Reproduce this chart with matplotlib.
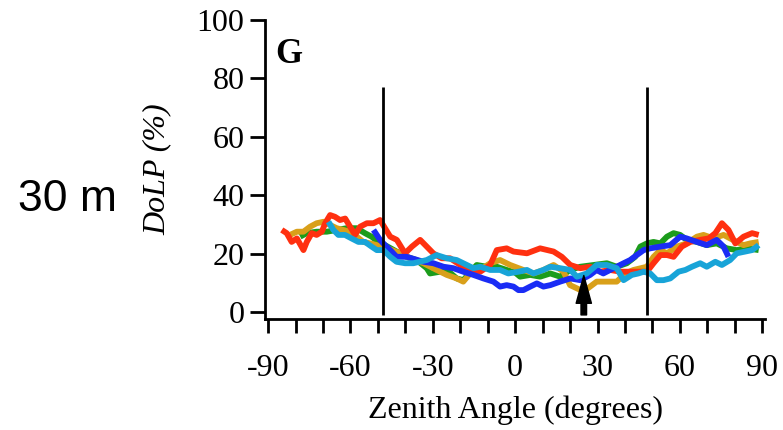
import numpy as np
import matplotlib.pyplot as plt

# ---------------------------------------------------------------------------
# Curves (zenith angle in degrees, DoLP in %)
# ---------------------------------------------------------------------------
red_x = [-85, -83.2, -81.4, -79.5, -77.1, -75.9, -74.1, -72.3, -70.4, -69.2,
         -67.4, -65.6, -63.8, -61.9, -60.1, -58.3, -56.5, -54, -51.6, -49.2,
         -47.4, -45.5, -43.1, -40.1, -37.6, -34.6, -32.2, -29.8, -26.8, -23.7,
         -20, -16.4, -12.7, -9.1, -6.7, -3.1, -0.6, 4.3, 9.1, 14, 17, 20.1,
         23.7, 27.3, 31, 34.6, 38.3, 43.1, 48, 50.4, 52.9, 55.3, 57.7, 60.7,
         63.8, 67.4, 70.5, 72.9, 75.3, 77.7, 80.2, 83.2, 86.3, 88.7]
red_y = [28.1, 27, 24, 25.2, 21.2, 24, 27, 26.4, 27.5, 30.4,
         33.2, 32.6, 31.5, 32, 29.2, 26.4, 29.2, 30.4, 30.4, 31.5,
         28.7, 25.8, 24.7, 20.1, 22.4, 24.7, 22.4, 20.1, 18.4, 18.4,
         16.1, 14.4, 13.8, 16.1, 21.2, 21.8, 20.7, 20.1, 21.8, 20.7, 18.9, 16.1,
         15, 15.5, 13.8, 14.4, 13.8, 13.8, 13.8, 16.7, 19.5, 19.5, 18.9, 22.4,
         24, 24.7, 25.2, 27, 30.4, 28.1, 23.5, 25.8, 27, 26.4]

gold_x = [-82, -79.5, -77.1, -74.7, -72.3, -69.8, -67.4, -65, -62.6, -60.1,
          -57.7, -55.3, -52.8, -50.4, -48, -41.9, -38.3, -33.4, -28.6, -24.9,
          -21.3, -18.9, -16.4, -12.8, -9.1, -5.5, -1.8, 3, 6.7, 10.3, 14, 17.6,
          20, 22.5, 24.9, 27.3, 29.7, 33.4, 37, 40.1, 43.1, 48, 50.4, 52.9,
          55.3, 58.9, 62.5, 66.2, 68.6, 72.3, 75.9, 78.3, 80.7, 83.2, 85.6, 88.7]
gold_y = [26.4, 27.5, 27.5, 29.2, 30.4, 30.9, 29.8, 28.7, 28.1, 27.5,
          25.8, 24, 23.5, 22.9, 22.4, 20.1, 18.4, 16.7, 14.4, 12.7,
          11.5, 10.4, 13.2, 14.4, 16.7, 17.8, 16.1, 14.4, 13.2, 14.4, 16.1, 13.8,
          9.2, 8.1, 7, 8.7, 10.4, 10.4, 10.4, 13.2, 14.4, 15.5, 18.9, 21.2,
          20.1, 22.4, 23.5, 25.8, 26.4, 25.2, 26.4, 25.2, 24, 22.9, 23.5, 24]

green_x = [-78.3, -75.9, -72.3, -68.6, -65, -61.4, -57.7, -54.7, -52.3, -49.8,
           -47.4, -43.2, -39.5, -35.9, -32.2, -31, -27.3, -24.9, -21.3, -18.9,
           -14, -10.4, -6.7, -3.1, 0, 1.8, 5.5, 9.1, 12.8, 16.4, 20.1, 23.7,
           28.6, 33.4, 37, 40.7, 43.7, 45.6, 48, 50.4, 52.9, 55.3, 57.7, 60.1,
           62.5, 66.2, 69.8, 73.4, 77.1, 80.7, 84.4, 88.7]
green_y = [25.8, 27, 27.5, 27.5, 28.1, 28.7, 28.7, 27, 25.8, 24,
           22.9, 20.7, 18.9, 17.8, 15, 13.2, 13.8, 14.4, 11.5, 10.9,
           16.1, 15.5, 15.5, 14.4, 13.5, 12.1, 12.7, 12.1, 13.2, 12.1, 14.4, 15.5,
           16.1, 16.7, 15.5, 16.7, 18.9, 22.4, 23.5, 24, 23.5, 25.8, 27, 26.4,
           24.7, 24, 22.9, 23.5, 21.8, 21.2, 21.8, 21.2]

blue_x = [-51.6, -49.2, -47.4, -45.5, -43.2, -39.5, -33.4, -29.8, -26.1, -22.5,
          -18.9, -15.2, -11.6, -7.9, -5.5, -3.1, -0.6, 1.2, 3, 5.5, 7.9, 10.3,
          12.8, 16.4, 20.1, 23.7, 27.3, 29.7, 32.1, 34.6, 37, 39.5, 41.9, 44.3,
          46.8, 49.2, 52.9, 56.5, 60.1, 62.5, 66.2, 69.8, 73.4, 75.9, 77.7]
blue_y = [28.1, 24.7, 22.9, 21.2, 18.9, 18.9, 17.2, 16.7, 15.5, 15,
          13.8, 12.7, 11.5, 10.4, 8.7, 9.2, 8.7, 7.5, 7.5, 8.7, 9.8, 8.7,
          9.2, 10.4, 11.5, 10.9, 12.7, 14.4, 13.2, 14.4, 15.5, 16.7, 17.8, 19.5,
          21.2, 21.8, 22.4, 22.9, 25.8, 25.2, 24, 22.9, 24.7, 22.4, 18.9]

cyan_x = [-68, -66.2, -64.4, -62, -59.6, -57.1, -54.7, -52.3, -50.4, -48,
          -45.5, -43.2, -40.1, -37.1, -32.2, -28.6, -24.9, -21.3, -18.9, -15.2,
          -12.7, -9.1, -5.5, -2.5, 1.2, 4.3, 6.7, 10.3, 12.8, 16.4, 20.1, 22.5,
          26.1, 29.7, 33.4, 37, 39.5, 42.5, 44.9, 46.8, 49.2, 51.6, 54, 56.5,
          59.5, 62, 64.4, 67.4, 69.8, 72.9, 75.3, 78.3, 80.7, 83.8, 86.3, 88.7]
cyan_y = [30.9, 28.1, 26.4, 26.4, 25.2, 24, 24, 22.4, 21.2, 21.2,
          18.9, 17.2, 16.7, 16.7, 17.8, 19.5, 18.4, 17.8, 16.7, 15,
          15.5, 14.4, 14.4, 13.2, 13.8, 14.4, 13.2, 14.4, 15.5, 15, 14.4, 12.1,
          13.2, 16.1, 16.1, 15, 10.9, 12.7, 13.2, 13.8, 13.2, 10.9, 10.9, 11.5,
          13.8, 14.4, 15.5, 16.7, 15.5, 17.2, 16.1, 17.8, 20.1, 20.7, 21.2, 22.9]

SERIES = [
    (green_x, green_y, "#1c9c1c"),
    (gold_x, gold_y, "#d9a01a"),
    (red_x, red_y, "#ff3010"),
    (blue_x, blue_y, "#1a2cf5"),
    (cyan_x, cyan_y, "#18a4d8"),
]

CUTOFFS = [-48, 48]
ARROW_AT = 25
X_TICKS = [-90, -60, -30, 0, 30, 60, 90]
Y_TICKS = [0, 20, 40, 60, 80, 100]

SERIF = "Liberation Serif"

fig = plt.figure(figsize=(7.83, 4.30), dpi=100)
ax = fig.add_axes([265.3 / 783, 1 - 319.3 / 430, 499.7 / 783, 299.3 / 430])

for xs, ys, col in SERIES:
    ax.plot(xs, ys, color=col, lw=4.2, solid_joinstyle="round",
            solid_capstyle="butt")

ax.vlines(CUTOFFS, -1, 77, color="black", lw=2)
ax.annotate("", xy=(ARROW_AT, 12.5), xytext=(ARROW_AT, -1),
            arrowprops=dict(facecolor="black", edgecolor="black", width=4,
                            headwidth=11, headlength=20, shrink=0))

ax.set_xlim(-91, 91)
ax.set_ylim(-2.5, 100)
ax.set_xticks(np.arange(-90, 91, 10), minor=True)
ax.set_xticks(X_TICKS)
ax.set_xticklabels([str(t) for t in X_TICKS])
ax.set_yticks(Y_TICKS)

for s in ("top", "right"):
    ax.spines[s].set_visible(False)
for s in ("left", "bottom"):
    ax.spines[s].set_linewidth(2)

ax.tick_params(axis="both", which="both", direction="out", width=2,
               labelsize=23, colors="black")
ax.tick_params(axis="x", which="both", length=10, pad=15)
ax.tick_params(axis="y", length=11, pad=4)
for lab in ax.get_xticklabels() + ax.get_yticklabels():
    lab.set_fontfamily(SERIF)

ax.set_xlabel("Zenith Angle (degrees)", fontsize=23, family=SERIF, labelpad=9)
ax.set_ylabel("DoLP (%)", fontsize=23, family=SERIF, style="italic",
              labelpad=18)

ax.text(0.02, 0.885, "G", transform=ax.transAxes, fontsize=25,
        fontweight="bold", family=SERIF, ha="left", va="center")
fig.text(67 / 783, 1 - 200 / 430, "30 m", fontsize=32,
         family="Liberation Sans", ha="center", va="center")

fig.savefig("out.png", dpi=100)
